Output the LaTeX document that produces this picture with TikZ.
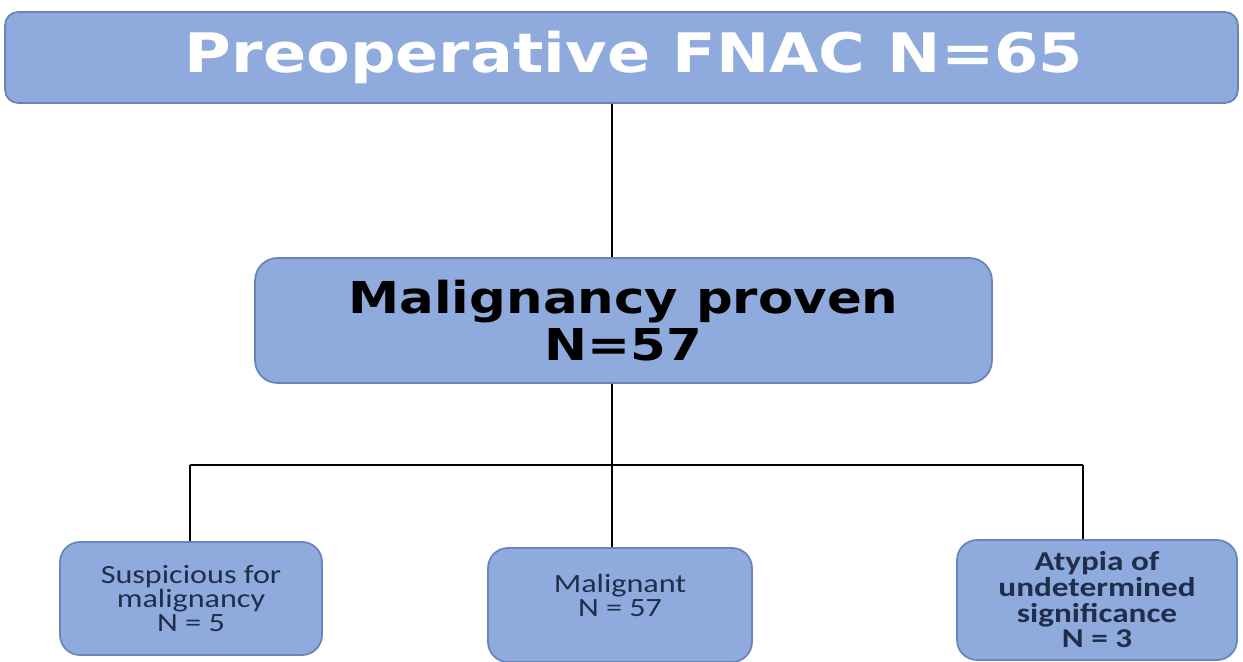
\documentclass[tikz,border=0pt]{standalone}
\usepackage{fontspec}
\setmainfont{Carlito}[FakeStretch=1.22]
\newfontfamily\heavyfont{DejaVu Sans}[FakeStretch=1.17]
\usetikzlibrary{positioning}

\definecolor{boxfill}{RGB}{143,170,220}
\definecolor{boxline}{RGB}{105,132,182}
\definecolor{leaftext}{RGB}{32,46,76}

\tikzset{
	flowbox/.style={draw=boxline, fill=boxfill, line width=1pt, align=center, inner sep=0pt},
	topbox/.style={flowbox, rounded corners=0.26cm, minimum width=24.66cm, minimum height=1.82cm,
		text=white, font=\heavyfont\bfseries\fontsize{31}{33}\selectfont},
	midbox/.style={flowbox, rounded corners=0.45cm, minimum width=14.74cm, minimum height=2.5cm,
		font=\heavyfont\bfseries\fontsize{25}{27}\selectfont},
	leafbox/.style={flowbox, rounded corners=0.4cm, text=leaftext, font=\fontsize{15}{13.8}\selectfont},
	link/.style={draw=black, line width=0.9pt}
}

\begin{document}
\begin{tikzpicture}[x=0.02cm, y=-0.02cm]
	\useasboundingbox (0,0) rectangle (1243,662);

	\node[topbox] (pre) at (621.5,57.5) {\hspace{0.5cm}Preoperative FNAC N=65};
	\node[midbox] (mal) at (623.5,320.5) {Malignancy proven\\N=57};

	\node[leafbox, minimum width=5.24cm, minimum height=2.26cm] (susp) at (191,598.5)
		{Suspicious for\\malignancy\\N = 5};
	\node[leafbox, minimum width=5.28cm, minimum height=2.28cm, text depth=0.38cm] (malig) at (620,605)
		{Malignant\\N = 57};
	\node[leafbox, minimum width=5.6cm, minimum height=2.4cm, font=\bfseries\fontsize{15.5}{14.6}\selectfont] (atyp) at (1097,600)
		{Atypia of\\undetermined\\significance\\N = 3};

	\coordinate (hub) at (612,465);
	\coordinate (hubL) at (190,465);
	\coordinate (hubR) at (1083,465);

	\path [link]
	(pre.south -| hub) edge (mal.north -| hub)
	(mal.south -| hub) edge (hub)
	(hubL) edge (hubR)
	(hubL) edge (hubL |- susp.north)
	(hub) edge (hub |- malig.north)
	(hubR) edge (hubR |- atyp.north);
\end{tikzpicture}
\end{document}
